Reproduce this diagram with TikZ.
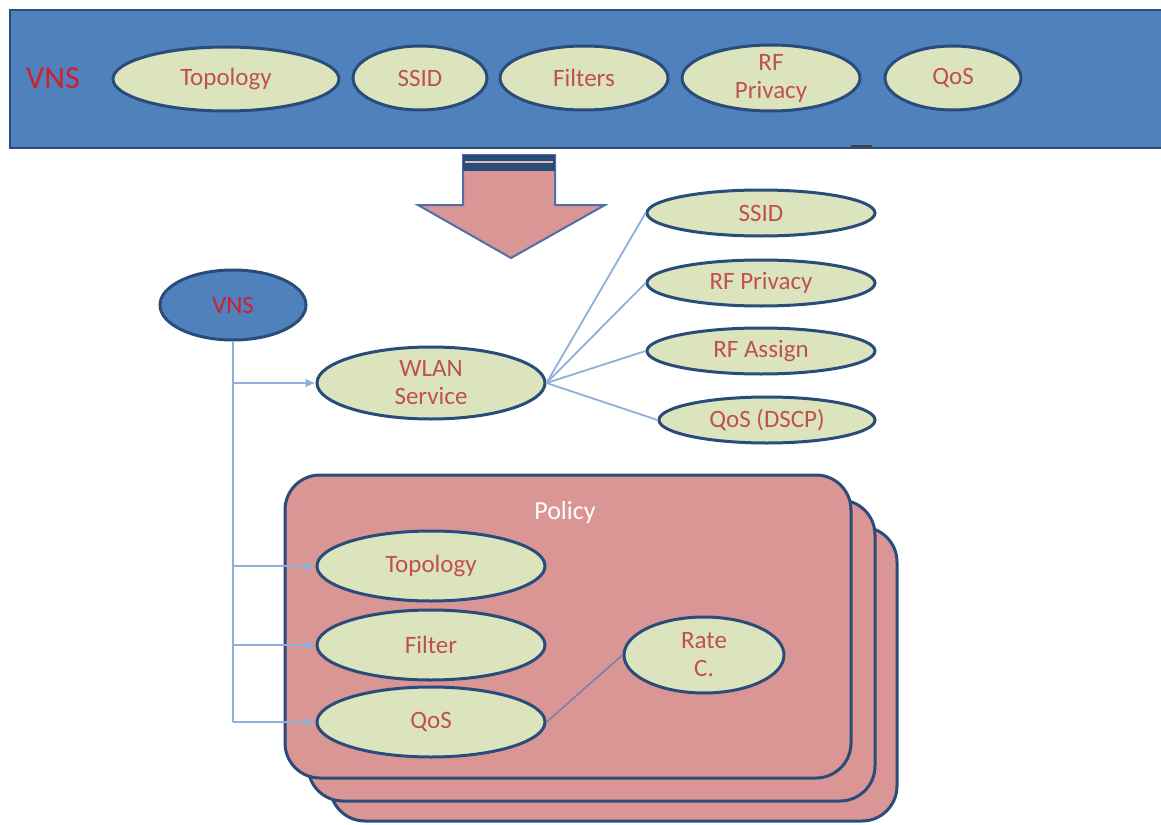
\documentclass[tikz,border=0pt]{standalone}
\usepackage{fontspec}
\setmainfont{Carlito}
\usetikzlibrary{shapes.geometric,arrows.meta}
\definecolor{bandblue}{HTML}{4F81BD}
\definecolor{darkblue}{HTML}{2A4C7A}
\definecolor{cream}{HTML}{DCE4BE}
\definecolor{lbl}{HTML}{C0504D}
\definecolor{vnsred}{HTML}{D0202E}
\definecolor{cardpink}{HTML}{D99694}
\definecolor{connblue}{HTML}{8FB0DA}
\definecolor{arrowedge}{HTML}{4F6FA8}
\definecolor{ratelink}{HTML}{6A7FB0}
\begin{document}
\begin{tikzpicture}[x=1pt,y=-1pt,
 oval/.style={ellipse,draw=darkblue,line width=3pt,fill=cream,inner sep=-6pt,text=lbl,align=center,font=\fontsize{25}{28}\selectfont},
 cardbox/.style={draw=darkblue,line width=3pt,fill=cardpink,rounded corners=35pt},
 conn/.style={draw=connblue,line width=1.8pt},
 tipped/.style={-{Latex[length=10pt,width=9pt]}}]
\useasboundingbox (0,0) rectangle (1161,824);
\fill[white] (0,0) rectangle (1161,824);
% top band
\draw[fill=bandblue,draw=darkblue,line width=2.5pt] (10,10) rectangle (1175,148);
\node[text=vnsred,font=\fontsize{32}{32}\selectfont] (vnslabel) at (53,78) {VNS};
\node[oval,minimum width=226,minimum height=64] (ttopo) at (226,79) {Topology};
\node[oval,minimum width=134,minimum height=64] (tssid) at (420,78) {SSID};
\node[oval,minimum width=168,minimum height=64] (tfilt) at (584,78) {Filters};
\node[oval,minimum width=178,minimum height=66] (trf) at (771,78) {RF\\Privacy};
\node[oval,minimum width=136,minimum height=64] (tqos) at (953,78) {QoS};
\draw[black!75,line width=2.5pt] (851,146) -- (872,146);
% big arrow
\draw[fill=cardpink,draw=arrowedge,line width=2pt] (463,155) -- (555,155) -- (555,205) -- (605,205) -- (511,258) -- (418,205) -- (463,205) -- cycle;
\fill[darkblue] (463,155) rectangle (555,171);
\draw[cardpink!70!white,line width=1.2pt] (465,162) -- (553,162);
% right ellipses
\node[oval,minimum width=228,minimum height=46] (ssid) at (761,213) {SSID};
\node[oval,minimum width=228,minimum height=46] (rfp) at (761,283) {RF Privacy};
\node[oval,minimum width=228,minimum height=46] (rfa) at (761,351) {RF Assign};
\node[oval,minimum width=216,minimum height=46] (dscp) at (767,420) {QoS (DSCP)};
% VNS and WLAN
\node[ellipse,draw=darkblue,line width=3pt,fill=bandblue,inner sep=0pt,minimum width=146,minimum height=70,text=vnsred,font=\fontsize{25}{25}\selectfont] (vns) at (233,305) {VNS};
\node[oval,minimum width=228,minimum height=72] (wlan) at (431,383) {WLAN\\Service};
\draw[conn] (wlan.east) -- (ssid.west);
\draw[conn] (wlan.east) -- (rfp.west);
\draw[conn] (wlan.east) -- (rfa.west);
\draw[conn] (wlan.east) -- (dscp.west);
% policy cards
\draw[cardbox] (330,527) rectangle (897,821);
\draw[cardbox] (308,500) rectangle (875,801);
\draw[cardbox] (285,475) rectangle (851,778);
\node[text=white,font=\fontsize{26}{26}\selectfont] (policy) at (565,513) {Policy};
\node[oval,minimum width=228,minimum height=70] (ptopo) at (431,566) {Topology};
\node[oval,minimum width=228,minimum height=70] (pfilt) at (431,645) {Filter};
\node[oval,minimum width=228,minimum height=70] (pqos) at (431,722) {QoS};
\node[oval,minimum width=160,minimum height=76] (rate) at (704,655) {Rate\\C.};
\draw[ratelink,line width=1.4pt] (pqos.east) -- (rate.west);
% trunk and branches
\draw[conn] (vns.south) -- (vns.south |- pqos.west);
\draw[conn,tipped] (vns.south |- wlan.west) -- (wlan.west);
\draw[conn,tipped] (vns.south |- ptopo.west) -- (ptopo.west);
\draw[conn,tipped] (vns.south |- pfilt.west) -- (pfilt.west);
\draw[conn,tipped] (vns.south |- pqos.west) -- (pqos.west);
\end{tikzpicture}
\end{document}
